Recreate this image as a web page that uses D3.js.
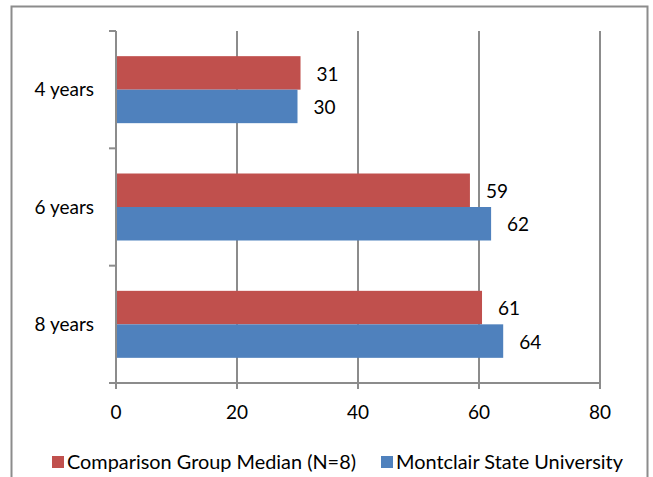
<!DOCTYPE html>
<html><head><meta charset="utf-8">
<script src="https://cdn.jsdelivr.net/npm/d3@7"></script>
<style>body{margin:0;background:#fff}svg{display:block}text{font-family:Lato,"Open Sans",sans-serif;fill:#000}</style>
</head><body><svg id="c" width="653" height="477"></svg>
<script>
const categories = ["4 years","6 years","8 years"];
const seriesNames = ["Comparison Group Median (N=8)","Montclair State University"];
const comparison = [30.5,58.5,60.5];
const montclair = [30,62,64];
const xTicks = [0,20,40,60,80];
const colors = ["#C0504D","#4F81BD"];

const svg = d3.select("#c");
const L=116,R=600,T=31,B=383;
// outer frame
svg.append("path").attr("d","M11.5,477 V6.5 H647.5 V477").attr("fill","none").attr("stroke","#8c8c8c").attr("stroke-width",2);

const x = d3.scaleLinear().domain([0,80]).range([L,R]);
const y = d3.scaleBand().domain(categories).range([T,B]);

// gridlines
svg.append("g").selectAll("line").data(xTicks).join("line")
 .attr("x1",d=>x(d)).attr("x2",d=>x(d)).attr("y1",T).attr("y2",B+6)
 .attr("stroke","#8c8c8c").attr("stroke-width",2);
// category axis
svg.append("line").attr("x1",L).attr("x2",L).attr("y1",T).attr("y2",B).attr("stroke","#8c8c8c").attr("stroke-width",2);
const yb=[...categories.map(c=>y(c)),B];
svg.append("g").selectAll("line").data(yb).join("line")
 .attr("x1",L-7).attr("x2",L).attr("y1",d=>d).attr("y2",d=>d).attr("stroke","#8c8c8c").attr("stroke-width",2);
svg.append("line").attr("x1",L-7).attr("x2",R).attr("y1",B).attr("y2",B).attr("stroke","#8c8c8c").attr("stroke-width",2);

const data=[comparison,montclair];
const bh=33.5;
const groupH=bh*2;
data.forEach((vals,si)=>{
  const g=svg.append("g");
  g.selectAll("rect").data(vals).join("rect")
   .attr("x",x(0)+1).attr("y",(d,i)=>y(categories[i])+y.bandwidth()/2-groupH/2+si*bh)
   .attr("width",d=>x(d)-x(0)-1).attr("height",bh).attr("fill",colors[si]);
  g.selectAll("text").data(vals).join("text")
   .attr("x",d=>x(d)+16).attr("y",(d,i)=>y(categories[i])+y.bandwidth()/2-groupH/2+si*bh+bh/2+1)
   .attr("dy","0.35em").attr("font-size",19).text(d=>Math.round(d));
});
// category labels
svg.append("g").selectAll("text").data(categories).join("text")
 .attr("x",94).attr("y",d=>y(d)+y.bandwidth()/2).attr("dy","0.35em").attr("text-anchor","end").attr("font-size",19).text(d=>d);
// x tick labels
svg.append("g").selectAll("text").data(xTicks).join("text")
 .attr("x",d=>x(d)).attr("y",412).attr("dy","0.35em").attr("text-anchor","middle").attr("font-size",19).text(d=>d);
// legend
const lx=[52,381], lw=[289,227];
seriesNames.forEach((n,i)=>{
  svg.append("rect").attr("x",lx[i]).attr("y",456).attr("width",12).attr("height",12).attr("fill",colors[i]);
  svg.append("text").attr("x",lx[i]+15).attr("y",462).attr("dy","0.35em").attr("font-size",19)
   .attr("textLength",lw[i]).attr("lengthAdjust","spacingAndGlyphs").text(n);
});
</script></body></html>
